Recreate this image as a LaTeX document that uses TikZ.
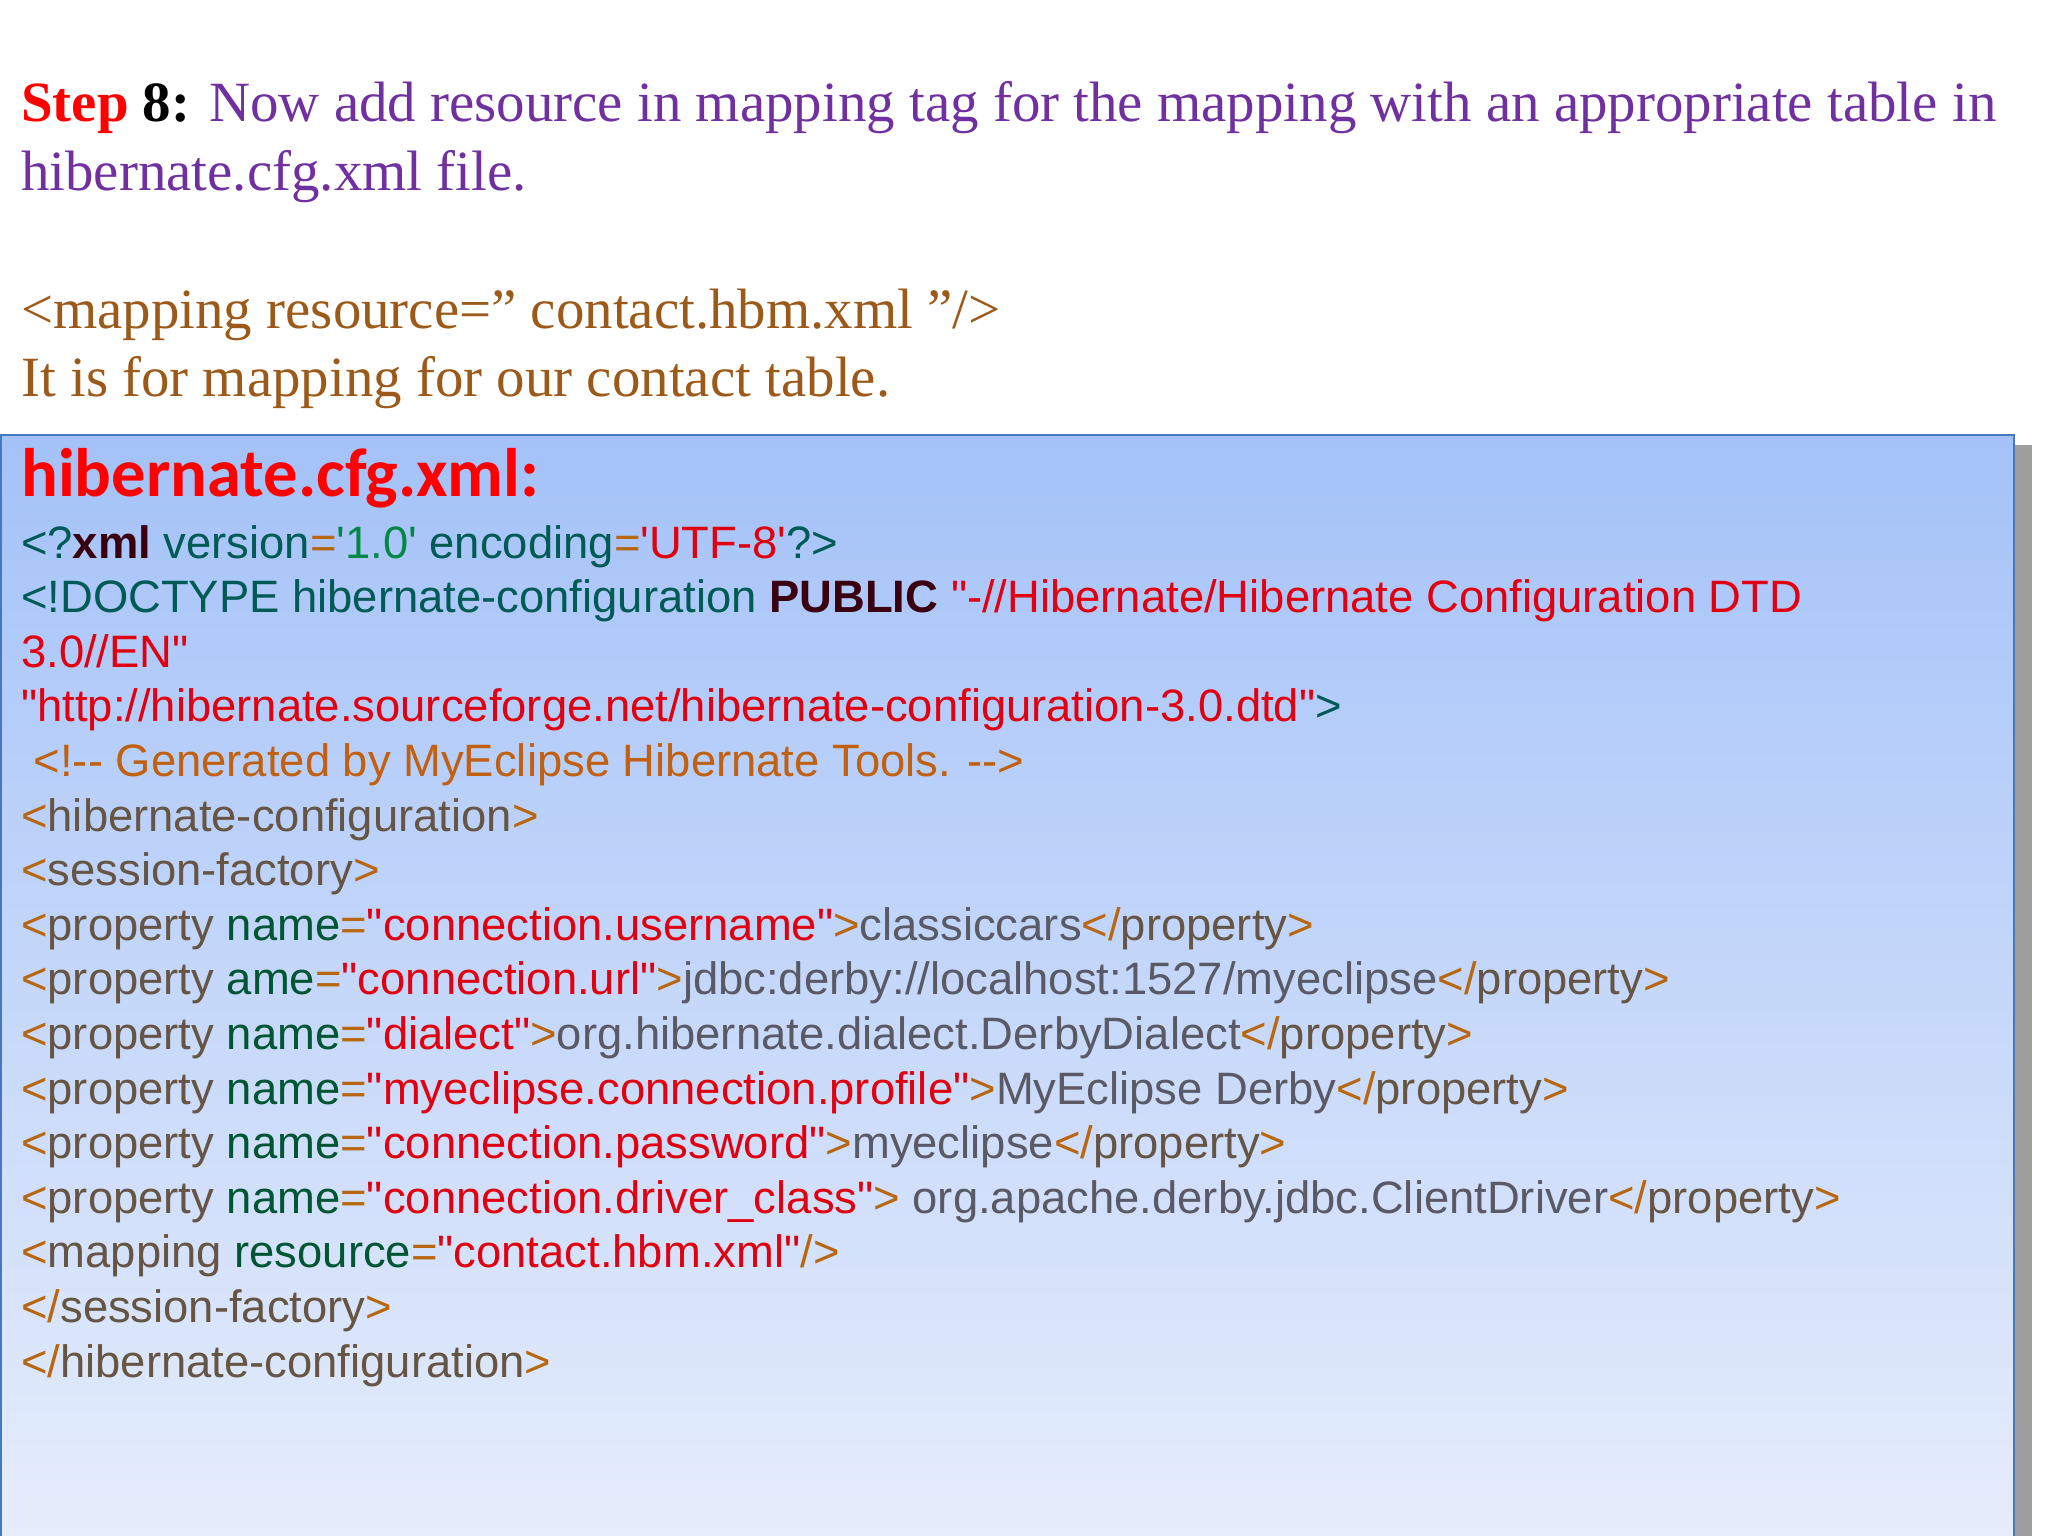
\documentclass[tikz,border=0pt]{standalone}
\usepackage{fontspec}
\setmainfont{Liberation Serif}
\newfontfamily\codefont{Liberation Sans}
\newfontfamily\titlefont{Carlito}
\definecolor{stepred}{HTML}{FF0000}
\definecolor{steppurple}{HTML}{7030A0}
\definecolor{stepbrown}{HTML}{9C5A1A}
\definecolor{pun}{HTML}{B8660F}
\definecolor{tagc}{HTML}{665544}
\definecolor{attc}{HTML}{005533}
\definecolor{valc}{HTML}{E00010}
\definecolor{txtc}{HTML}{5A5A66}
\definecolor{teal}{HTML}{005A55}
\definecolor{maroon}{HTML}{3A0010}
\definecolor{grn}{HTML}{008844}
\definecolor{cmt}{HTML}{C06010}
\definecolor{topc}{HTML}{A4C2F8}
\definecolor{botc}{HTML}{E6EDFC}
\newcommand\qq{\char34\relax}
\begin{document}
\begin{tikzpicture}[x=1pt,y=-1pt,
  toptext/.style={anchor=base west,inner sep=0pt,font=\fontsize{56.9}{62}\selectfont},
  codeline/.style={anchor=base west,inner sep=0pt,font=\codefont\fontsize{45.4}{50}\selectfont}]
\useasboundingbox (0,0) rectangle (2048,1536);
\fill[white] (0,0) rectangle (2048,1536);
% shadow
\fill[black!38] (2014,445) rectangle (2032,1536);
% box
\shade[top color=topc,bottom color=botc,draw=none] (0,435) rectangle (2014,1536);
\draw[color={rgb,255:red,70;green,120;blue,190},line width=2pt] (1,1537) -- (1,435) -- (2014,435) -- (2014,1537);
\newcommand\pu[1]{\textcolor{pun}{#1}}
\newcommand\tg[1]{\textcolor{tagc}{#1}}
\newcommand\at[1]{\textcolor{attc}{#1}}
\newcommand\va[1]{\textcolor{valc}{#1}}
\newcommand\tx[1]{\textcolor{txtc}{#1}}
\node[toptext] (l1) at (21,122) {\textcolor{stepred}{\textbf{Step}} \textbf{8:} \textcolor{steppurple}{Now add resource in mapping tag for the mapping with an appropriate table in}};
\node[toptext,text=steppurple] (l2) at (21,190) {hibernate.cfg.xml file.};
\node[toptext,text=stepbrown] (l3) at (21,328) {<mapping resource=\qq{} contact.hbm.xml \qq/>};
\node[toptext,text=stepbrown] (l4) at (21,396) {It is for mapping for our contact table.};
\node[anchor=base west,inner sep=0pt,font=\titlefont\bfseries\fontsize{68.6}{74}\selectfont,text=stepred] (title) at (21,496) {hibernate.cfg.xml:};
\node[codeline] (c1) at (21,558) {\textcolor{teal}{<?}\textcolor{maroon}{\textbf{xml}} \textcolor{teal}{version}\pu{=}\textcolor{grn}{'1.0'} \textcolor{teal}{encoding}\pu{=}\va{'UTF-8'}\textcolor{teal}{?>}};
\node[codeline] (c2) at (21,612.6) {\textcolor{teal}{<!DOCTYPE hibernate-configuration} \textcolor{maroon}{\textbf{PUBLIC}} \va{\qq-//Hibernate/Hibernate Configuration DTD}};
\node[codeline] (c3) at (21,667.2) {\va{3.0//EN\qq}};
\node[codeline] (c4) at (21,721.8) {\va{\qq http://hibernate.sourceforge.net/hibernate-configuration-3.0.dtd\qq}\textcolor{teal}{>}};
\node[codeline] (c5) at (21,776.4) {\textcolor{cmt}{\ <!-- Generated by MyEclipse Hibernate Tools. -->}};
\node[codeline] (c6) at (21,831) {\pu{<}\tg{hibernate-configuration}\pu{>}};
\node[codeline] (c7) at (21,885.6) {\pu{<}\tg{session-factory}\pu{>}};
\node[codeline] (c8) at (21,940.2) {\pu{<}\tg{property} \at{name}\pu{=}\va{\qq connection.username\qq}\pu{>}\tx{classiccars}\pu{</}\tg{property}\pu{>}};
\node[codeline] (c9) at (21,994.8) {\pu{<}\tg{property} \at{ame}\pu{=}\va{\qq connection.url\qq}\pu{>}\tx{jdbc:derby://localhost:1527/myeclipse}\pu{</}\tg{property}\pu{>}};
\node[codeline] (c10) at (21,1049.4) {\pu{<}\tg{property} \at{name}\pu{=}\va{\qq dialect\qq}\pu{>}\tx{org.hibernate.dialect.DerbyDialect}\pu{</}\tg{property}\pu{>}};
\node[codeline] (c11) at (21,1104) {\pu{<}\tg{property} \at{name}\pu{=}\va{\qq myeclipse.connection.profile\qq}\pu{>}\tx{MyEclipse Derby}\pu{</}\tg{property}\pu{>}};
\node[codeline] (c12) at (21,1158.6) {\pu{<}\tg{property} \at{name}\pu{=}\va{\qq connection.password\qq}\pu{>}\tx{myeclipse}\pu{</}\tg{property}\pu{>}};
\node[codeline] (c13) at (21,1213.2) {\pu{<}\tg{property} \at{name}\pu{=}\va{\qq connection.driver\_class\qq}\pu{>} \tx{org.apache.derby.jdbc.ClientDriver}\pu{</}\tg{property}\pu{>}};
\node[codeline] (c14) at (21,1267.8) {\pu{<}\tg{mapping} \at{resource}\pu{=}\va{\qq contact.hbm.xml\qq}\pu{/>}};
\node[codeline] (c15) at (21,1322.4) {\pu{</}\tg{session-factory}\pu{>}};
\node[codeline] (c16) at (21,1377) {\pu{</}\tg{hibernate-configuration}\pu{>}};
\end{tikzpicture}
\end{document}
